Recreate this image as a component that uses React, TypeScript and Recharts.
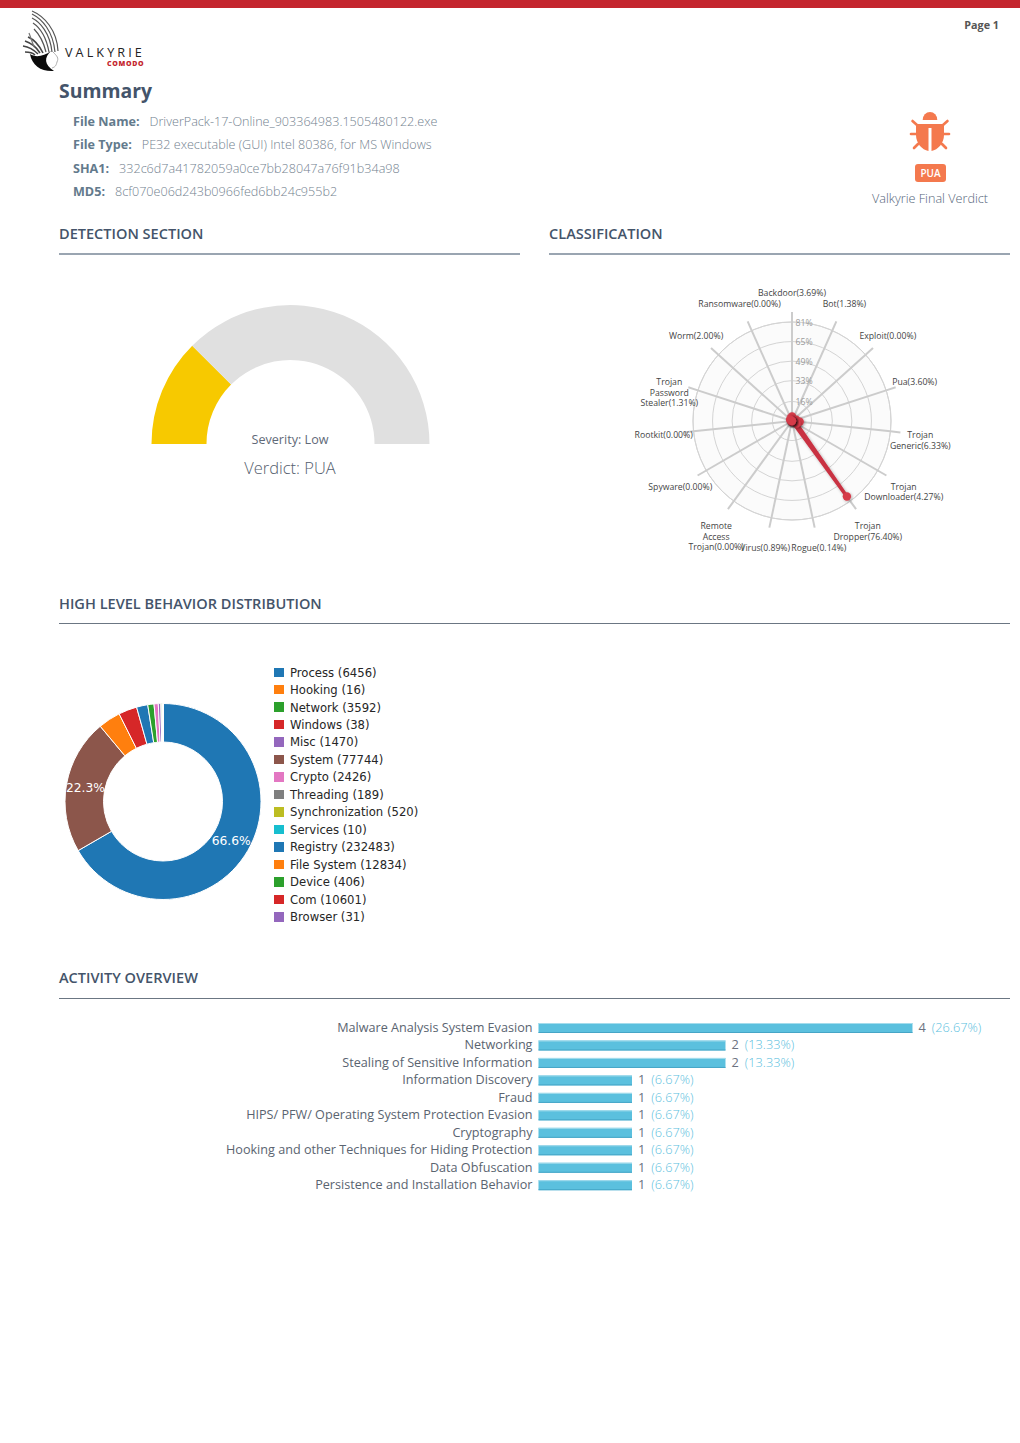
import React from 'react';
import {
  BarChart,
  Bar,
  XAxis,
  YAxis,
  LabelList,
  PieChart,
  Pie,
  Cell,
  RadarChart,
  Radar,
  PolarGrid,
  PolarAngleAxis,
  PolarRadiusAxis,
} from 'recharts';

const SANS = '"Open Sans", sans-serif';

// Summary block
const summaryLabels = ['File Name:', 'File Type:', 'SHA1:', 'MD5:'];
const summaryValues = [
  'DriverPack-17-Online_903364983.1505480122.exe',
  'PE32 executable (GUI) Intel 80386, for MS Windows',
  '332c6d7a41782059a0ce7bb28047a76f91b34a98',
  '8cf070e06d243b0966fed6bb24c955b2',
];

// Gauge
const gaugeNames = ['Severity', 'Rest'];
const gaugeValues = [25, 75];
const gaugeColors = ['#f7c900', '#e0e0e0'];

// Classification radar
const classNames = [
  'Backdoor', 'Bot', 'Exploit', 'Pua', 'Trojan Generic', 'Trojan Downloader', 'Trojan Dropper', 'Rogue',
  'Virus', 'Remote Access Trojan', 'Spyware', 'Rootkit', 'Trojan Password Stealer', 'Worm', 'Ransomware',
];
const classValues = [3.69, 1.38, 0, 3.6, 6.33, 4.27, 76.4, 0.14, 0.89, 0, 0, 0, 1.31, 2, 0];
const radarTicks = [16, 33, 49, 65, 81];

// Behaviour donut, in legend order
const behaviorNames = [
  'Process', 'Hooking', 'Network', 'Windows', 'Misc', 'System', 'Crypto', 'Threading',
  'Synchronization', 'Services', 'Registry', 'File System', 'Device', 'Com', 'Browser',
];
const behaviorCounts = [6456, 16, 3592, 38, 1470, 77744, 2426, 189, 520, 10, 232483, 12834, 406, 10601, 31];
const behaviorColors = [
  '#1f77b4', '#ff7f0e', '#2ca02c', '#d62728', '#9467bd', '#8c564b', '#e377c2', '#7f7f7f',
  '#bcbd22', '#17becf', '#1f77b4', '#ff7f0e', '#2ca02c', '#d62728', '#9467bd',
];

// Activity overview
const activityNames = [
  'Malware Analysis System Evasion', 'Networking', 'Stealing of Sensitive Information', 'Information Discovery',
  'Fraud', 'HIPS/ PFW/ Operating System Protection Evasion', 'Cryptography',
  'Hooking and other Techniques for Hiding Protection', 'Data Obfuscation', 'Persistence and Installation Behavior',
];
const activityCounts = [4, 2, 2, 1, 1, 1, 1, 1, 1, 1];
const activityPercents = ['26.67', '13.33', '13.33', '6.67', '6.67', '6.67', '6.67', '6.67', '6.67', '6.67'];

const gaugeData = gaugeNames.map((name, i) => ({ name, value: gaugeValues[i] }));
const radarData = classNames.map((name, i) => ({ name, value: classValues[i] }));
const behaviorData = behaviorNames
  .map((name, i) => ({ name, value: behaviorCounts[i], color: behaviorColors[i] }))
  .sort((a, b) => b.value - a.value);
const activityData = activityNames.map((name, i) => ({
  name,
  value: activityCounts[i],
  percent: activityPercents[i],
}));

const Abs: React.FC<{ style: React.CSSProperties; children?: React.ReactNode }> = ({ style, children }) => (
  <div style={{ position: 'absolute', whiteSpace: 'nowrap', ...style }}>{children}</div>
);

const Heading: React.FC<{ x: number; y: number; width: number; lineY: number; line: string; lineH: number; text: string }> = ({
  x, y, width, lineY, line, lineH, text,
}) => (
  <>
    <Abs style={{ left: x, top: y - 12, height: 22, lineHeight: '22px', fontSize: 14.55, fontWeight: 600, color: '#44546a' }}>
      {text}
    </Abs>
    <Abs style={{ left: x, top: lineY, width, height: lineH, background: line }} />
  </>
);

const RADAR_CX = 192;
const RADAR_CY = 151;
const RADAR_R = 99;
const TICK_SIZE = 10;
const LABEL_R = 129;

// chart.js style point label: centered on a ring outside the spokes, first line on the ring
const RadarLabel = (props: any) => {
  const { x, y, payload, index } = props;
  const k = LABEL_R / (RADAR_R + TICK_SIZE);
  const px = RADAR_CX + (x - RADAR_CX) * k;
  const py = RADAR_CY + (y - RADAR_CY) * k;
  const lines = `${payload.value}(${classValues[index].toFixed(2)}%)`.split(' ');
  return (
    <text x={px} y={py} textAnchor="middle" fontSize={8.7} fontFamily={SANS} fill="#444">
      {lines.map((line, i) => (
        <tspan key={i} x={px} y={py + 4 + i * 10.4}>
          {line}
        </tspan>
      ))}
    </text>
  );
};

const RadarTick = (props: any) => {
  const { x, y, payload } = props;
  return (
    <text x={x + 12} y={y + 3.5} textAnchor="middle" fontSize={8.7} fontFamily={SANS} fill="#9a9a9a">
      {payload.value}%
    </text>
  );
};

const DonutLabel = (props: any) => {
  const { cx, cy, midAngle, innerRadius, outerRadius, percent } = props;
  if (percent < 0.1) return null;
  const r = (innerRadius + outerRadius) / 2;
  const a = (-midAngle * Math.PI) / 180;
  return (
    <text
      x={cx + r * Math.cos(a)}
      y={cy + r * Math.sin(a)}
      fill="#fff"
      fontSize={12.3}
      fontFamily='"DejaVu Sans", sans-serif'
      textAnchor="middle"
      dominantBaseline="central"
    >
      {(percent * 100).toFixed(1)}%
    </text>
  );
};

const ActivityBar = (props: any) => {
  const { x, y, width, height } = props;
  return (
    <g>
      <rect x={x} y={y} width={width} height={height} fill="#5bc0de" />
      <rect x={x} y={y} width={width} height={1} fill="#a5dcec" />
      <rect x={x} y={y + height - 1} width={width} height={1} fill="#46a5c6" />
    </g>
  );
};

const ActivityLabel = (props: any) => {
  const { x, y, width, height, index } = props;
  return (
    <text x={x + width + 6} y={y + height / 2 + 4} fontSize={12.8} fontFamily={SANS}>
      <tspan fill="#6b7280">{activityCounts[index]}</tspan>
      <tspan dx={6} fill="#5bc0de" fontWeight={300}>
        ({activityPercents[index]}%)
      </tspan>
    </text>
  );
};

const Logo = () => (
  <svg width={130} height={66} viewBox="0 0 130 66" style={{ position: 'absolute', left: 20, top: 10 }}>
    <g fill="none" stroke="#555" strokeWidth={1.2}>
      <path d="M12 1 C24 6 37 20 38 41" />
      <path d="M12 4 C22 9 33 21 35 42" />
      <path d="M12 8 C20 12 30 23 32 42" />
      <path d="M13 13 C19 17 26 26 29 42" />
      <path d="M14 19 C18 23 23 30 26 42" />
    </g>
    <g fill="none" stroke="#444" strokeWidth={1.6}>
      <path d="M8 27 C13 29 19 35 23 43" />
      <path d="M5 31 C11 33 17 38 20 43" />
      <path d="M3 36 C9 37 14 40 18 44" />
      <path d="M5 42 C10 42 13 43 15 45" />
      <path d="M9 23 L14 37" strokeWidth={1.2} stroke="#777" />
    </g>
    <path d="M10 44 C16 48 24 46 31 41 C24 48 24 54 34 61 C22 62 12 56 10 44 Z" fill="#0b0b0b" />
    <path d="M33 42 C37 46 39 48 37 52 C36 56 35 57 32 58" fill="none" stroke="#999" strokeWidth={0.8} />
    <text x={45} y={46.5} fontSize={12.6} letterSpacing={3.1} fontFamily={SANS} fill="#222">VALKYRIE</text>
    <text x={87} y={55.5} fontSize={7} fontWeight={800} letterSpacing={0.7} fontFamily={SANS} fill="#c4262e">COMODO</text>
  </svg>
);

const BugIcon = () => (
  <svg width={60} height={55} viewBox="0 0 60 55" style={{ position: 'absolute', left: 900, top: 105 }}>
    <g fill="#f4794e">
      <path d="M22.7 15 A7.3 8 0 0 1 37.3 15 Z" />
      <path d="M16 19 H44 V30 C44 38 38 45 31.5 46 V23 H28.5 V46 C22 45 16 38 16 30 Z" />
    </g>
    <g stroke="#f4794e" strokeWidth={2.6} strokeLinecap="round">
      <path d="M12.5 16 L17 20" />
      <path d="M47.5 16 L43 20" />
      <path d="M11 29 H16" />
      <path d="M49 29 H44" />
      <path d="M14 43 L18 39" />
      <path d="M46 43 L42 39" />
    </g>
  </svg>
);

const App: React.FC = () => {
  return (
    <div style={{ position: 'absolute', left: 0, top: 0, width: 1020, height: 1443, background: '#fff', overflow: 'hidden', fontFamily: SANS }}>
      <Abs style={{ left: 0, top: 0, width: 1020, height: 7.5, background: '#c4262e' }} />
      <Abs style={{ right: 21, top: 17, fontSize: 10.8, fontWeight: 700, color: '#555', lineHeight: '16px' }}>Page 1</Abs>
      <Logo />

      <Abs style={{ left: 59, top: 77, fontSize: 19.4, lineHeight: '28px', fontWeight: 700, color: '#44546a' }}>Summary</Abs>
      {summaryLabels.map((label, i) => (
        <Abs key={label} style={{ left: 73, top: 112 + i * 23.3, fontSize: 12.6, lineHeight: '20px' }}>
          <span style={{ fontWeight: 700, color: '#637a8c' }}>{label}</span>
          <span style={{ fontWeight: 300, color: '#73828f', marginLeft: 10 }}>{summaryValues[i]}</span>
        </Abs>
      ))}

      <BugIcon />
      <Abs style={{ left: 915, top: 163.5, width: 31, height: 18, lineHeight: '18px', borderRadius: 3, background: '#f4794e', color: '#fff', fontSize: 10, fontWeight: 600, textAlign: 'center' }}>
        PUA
      </Abs>
      <Abs style={{ left: 830, width: 200, top: 188, textAlign: 'center', fontSize: 12.65, lineHeight: '20px', fontWeight: 300, color: '#55657a' }}>
        Valkyrie Final Verdict
      </Abs>

      <Heading x={59} y={234} width={461} lineY={253} lineH={2} line="#9aa5b1" text="DETECTION SECTION" />
      <Heading x={549} y={234} width={461} lineY={253} lineH={2} line="#9aa5b1" text="CLASSIFICATION" />
      <Heading x={59} y={604} width={951} lineY={623} lineH={1} line="#6b7683" text="HIGH LEVEL BEHAVIOR DISTRIBUTION" />
      <Heading x={59} y={978} width={951} lineY={998} lineH={1} line="#6b7683" text="ACTIVITY OVERVIEW" />

      {/* Gauge */}
      <div style={{ position: 'absolute', left: 140, top: 295 }}>
        <PieChart width={300} height={160} margin={{ top: 0, right: 0, bottom: 0, left: 0 }}>
          <Pie
            data={gaugeData}
            dataKey="value"
            cx={150.5}
            cy={149}
            startAngle={180}
            endAngle={0}
            innerRadius={84}
            outerRadius={139}
            stroke="none"
            isAnimationActive={false}
          >
            {gaugeData.map((d, i) => (
              <Cell key={d.name} fill={gaugeColors[i]} />
            ))}
          </Pie>
        </PieChart>
      </div>
      <Abs style={{ left: 190, width: 200, top: 431, textAlign: 'center', fontSize: 12.6, lineHeight: '18px', color: '#5f6a78' }}>Severity: Low</Abs>
      <Abs style={{ left: 190, width: 200, top: 456, textAlign: 'center', fontSize: 16.5, lineHeight: '24px', fontWeight: 300, color: '#55606e' }}>Verdict: PUA</Abs>

      {/* Classification radar */}
      <div style={{ position: 'absolute', left: 600, top: 270 }}>
        <RadarChart width={390} height={300} cx={RADAR_CX} cy={RADAR_CY} outerRadius={RADAR_R} data={radarData} margin={{ top: 0, right: 0, bottom: 0, left: 0 }}>
          <defs>
            <filter id="radarShadow" x="-30%" y="-30%" width="160%" height="160%">
              <feDropShadow dx={1} dy={1} stdDeviation={1.5} floodColor="#000" floodOpacity={0.3} />
            </filter>
          </defs>
          <PolarGrid gridType="circle" stroke="#d4d4d4" strokeWidth={1} fill="#000" fillOpacity={0.016} radialLines={false} />
          <PolarGrid gridType="circle" polarRadius={[]} stroke="#cccccc" strokeWidth={2} radialLines />
          <PolarAngleAxis
            dataKey="name"
            tick={<RadarLabel />}
            tickSize={TICK_SIZE}
            axisLine={false}
            tickLine={{ stroke: '#cccccc', strokeWidth: 2 }}
          />
          <PolarRadiusAxis
            angle={90}
            domain={[0, 81]}
            ticks={radarTicks as any}
            axisLine={false}
            tickLine={false}
            tick={<RadarTick />}
          />
          <Radar
            dataKey="value"
            stroke="#c93343"
            strokeWidth={3.5}
            fill="#d63a4a"
            fillOpacity={1}
            dot={{ r: 4.2, fill: '#d63a4a', stroke: '#d63a4a', strokeWidth: 0, fillOpacity: 1 }}
            filter="url(#radarShadow)"
            isAnimationActive={false}
          />
        </RadarChart>
      </div>

      {/* Behaviour donut */}
      <div style={{ position: 'absolute', left: 55, top: 695 }}>
        <PieChart width={216} height={214} margin={{ top: 0, right: 0, bottom: 0, left: 0 }}>
          <Pie
            data={behaviorData}
            dataKey="value"
            cx={108}
            cy={106.5}
            startAngle={90}
            endAngle={-270}
            innerRadius={59.5}
            outerRadius={98}
            stroke="#fff"
            strokeWidth={1}
            label={DonutLabel}
            labelLine={false}
            isAnimationActive={false}
          >
            {behaviorData.map((d) => (
              <Cell key={d.name} fill={d.color} />
            ))}
          </Pie>
        </PieChart>
      </div>
      {behaviorNames.map((name, i) => (
        <React.Fragment key={name}>
          <Abs style={{ left: 274, top: 667.5 + i * 17.47, width: 10, height: 9.5, background: behaviorColors[i] }} />
          <Abs style={{ left: 290, top: 664.6 + i * 17.47, fontSize: 11.65, lineHeight: '17px', fontFamily: '"DejaVu Sans", sans-serif', color: '#262626' }}>
            {name} ({behaviorCounts[i]})
          </Abs>
        </React.Fragment>
      ))}

      {/* Activity overview */}
      <div style={{ position: 'absolute', left: 0, top: 1018.5 }}>
        <BarChart
          layout="vertical"
          width={1020}
          height={174.7}
          data={activityData}
          margin={{ top: 0, right: 107.5, bottom: 0, left: 0 }}
        >
          <XAxis type="number" domain={[0, 4]} hide />
          <YAxis
            type="category"
            dataKey="name"
            width={538.5}
            interval={0}
            axisLine={false}
            tickLine={false}
            tickMargin={6}
            tickSize={0}
            tick={{ fontSize: 12.65, fill: '#5a6470', fontFamily: SANS, dy: -0.4 } as any}
          />
          <Bar dataKey="value" barSize={10} shape={<ActivityBar />} isAnimationActive={false}>
            <LabelList dataKey="value" content={<ActivityLabel />} />
          </Bar>
        </BarChart>
      </div>
    </div>
  );
};

export default App;
